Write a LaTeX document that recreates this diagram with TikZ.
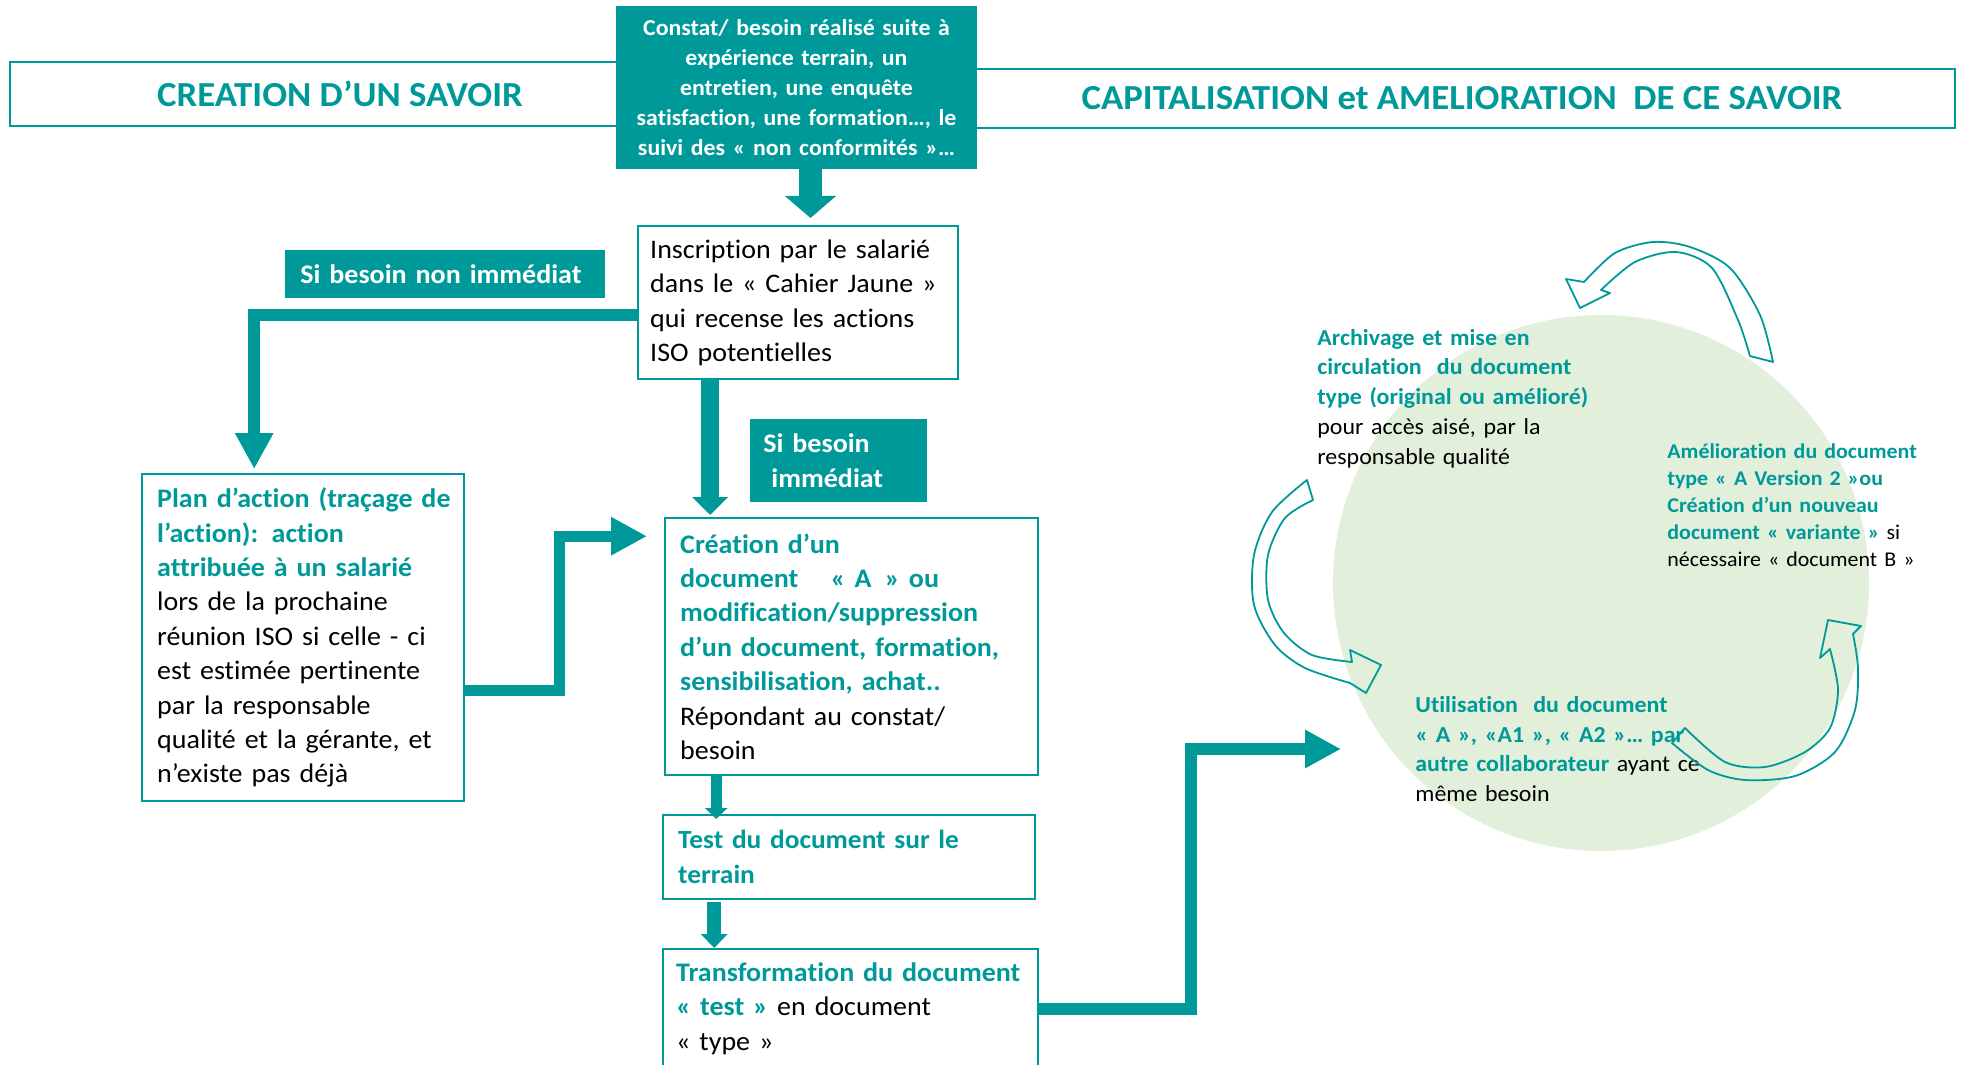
\documentclass[tikz,border=0pt]{standalone}
\usepackage{fontspec}
\setmainfont{Carlito}[FakeStretch=1.045, Ligatures={TeX,NoCommon}]
\usepackage{tikz}
\usepackage{xcolor}
\usetikzlibrary{arrows.meta}

\definecolor{tealc}{RGB}{0,153,153}
\definecolor{cyclegreen}{RGB}{226,239,218}
\newcommand{\tealbf}{\bfseries\color{tealc}}
\newcommand{\plainbk}{\mdseries\color{black}}
\newcommand{\nohyph}{\hyphenpenalty=10000\relax}
\newcommand{\ind}{\hspace*{6pt}}

\begin{document}
\begin{tikzpicture}[x=0.5pt, y=-0.5pt,
    every node/.style={execute at begin node=\nohyph},
    banner/.style={draw=tealc, line width=1.2pt, fill=white, text=tealc, font=\bfseries\fontsize{17.6}{20}\selectfont},
    tealbox/.style={fill=tealc, text=white, align=center, font=\bfseries\fontsize{11.4}{15}\selectfont},
    tag/.style={fill=tealc, text=white, align=left, anchor=north west, font=\bfseries\fontsize{13.4}{17.5}\selectfont},
    box/.style={draw=tealc, line width=1.2pt, fill=white, align=left, anchor=north west, inner ysep=0pt, font=\fontsize{13.4}{17.2}\selectfont},
    cycletxt/.style={anchor=west, align=left, inner sep=0pt, text width=150pt},
    flow/.style={draw=tealc, line width=6pt, -{Triangle[width=18pt, length=18pt]}},
    cyclearrow/.style={draw=tealc, line width=0.9pt, line join=round}]

\useasboundingbox (0,0) rectangle (1961,1065);
\clip (0,0) rectangle (1961,1065);
\fill[white] (0,0) rectangle (1961,1065);

% titles
\node[banner, minimum width=330pt, minimum height=32pt] (creation) at (340,94) {CREATION D’UN SAVOIR};
\node[banner, minimum width=493pt, minimum height=29.5pt] (capital) at (1462,98.5) {CAPITALISATION et AMELIORATION~ DE CE SAVOIR};
\node[tealbox, minimum width=179.5pt, minimum height=81.5pt, text width=174pt] (constat) at (796.5,87.5) {Constat/ besoin réalisé suite à\\ expérience terrain, un\\ entretien, une enquête\\ satisfaction, une formation…, le\\ suivi des « non conformités »…};

% creation du savoir
\node[box, minimum width=160pt, minimum height=76.5pt, text width=148pt, inner xsep=6pt] (inscr) at (637,225) {Inscription par le salarié\\ dans le « Cahier Jaune »\\ qui recense les actions\\ ISO potentielles};
\node[tag, minimum width=160pt, minimum height=24pt, text width=145pt, inner xsep=7.5pt] (nonimm) at (285,250) {Si besoin non immédiat};
\node[box, minimum width=161pt, minimum height=163.5pt, text width=158pt, inner xsep=1.5pt] (plan) at (141,473) {\ind\tealbf Plan d’action (traçage de\\ \ind l’action): action\\ \ind attribuée à un salarié\\ \ind\plainbk lors de la prochaine\\ \ind réunion ISO si celle - ci\\ \ind est estimée pertinente\\ \ind par la responsable\\ \ind qualité et la gérante, et\\ \ind n’existe pas déjà};
\node[tag, minimum width=88.5pt, minimum height=41.5pt, text width=75.5pt, inner xsep=6.5pt] (imm) at (750,419) {Si besoin\\ \hspace*{0.3em}immédiat};
\node[box, minimum width=186.5pt, minimum height=128.5pt, text width=171.5pt, inner xsep=7.5pt] (creat) at (664,517) {\tealbf Création d’un\\ document\hspace{1.2em}« A\hspace{0.5em}» ou\\ modification/suppression\\ d’un document, formation,\\ sensibilisation, achat..\\ \plainbk Répondant au constat/\\ besoin};
\node[box, minimum width=186pt, minimum height=42pt, text width=171pt, inner xsep=7.5pt, font=\bfseries\fontsize{13.1}{17.5}\selectfont, text=tealc] (test) at (662,814) {Test du document sur le\\ terrain};
\node[box, minimum width=187.5pt, minimum height=59.5pt, text width=182.5pt, inner xsep=2.5pt] (trans) at (662,948) {\hspace*{4pt}\tealbf Transformation du document\\ \hspace*{4pt}« test » \plainbk en document\\ \hspace*{4pt}« type »};

% capitalisation
\fill[cyclegreen] (1601,583) circle[radius=268];
\node[cycletxt, text width=160pt, font=\fontsize{11.45}{14.9}\selectfont] (archiv) at (1317,398.5) {\tealbf Archivage et mise en\\ circulation~ du document\\ type (original ou amélioré)\\ \plainbk pour accès aisé, par la\\ responsable qualité};
\node[cycletxt, text width=140pt, font=\fontsize{10.5}{13.45}\selectfont] (amelio) at (1667,505) {\tealbf Amélioration du document\\ type « A Version 2 »ou\\ Création d’un nouveau\\ document « variante » \plainbk si\\ nécessaire « document B »};
\node[cycletxt, text width=160pt, font=\fontsize{11.45}{14.85}\selectfont] (util) at (1415,749) {\tealbf Utilisation~ du document\\ « A », «A1 », « A2 »… par\\ autre collaborateur \plainbk ayant ce\\ même besoin};

\draw[cyclearrow] plot[smooth] coordinates {(1773,362) (1760,315) (1730,268) (1690,247) (1653,242) (1615,253) (1584,282)} -- (1566,279) -- (1580,308) -- (1610,293) -- plot[smooth] coordinates {(1601,290) (1635,262) (1676,252) (1712,268) (1738,320) (1750,356)} -- cycle;
\draw[cyclearrow] plot[smooth] coordinates {(1307,480) (1272,512) (1254,555) (1254,605) (1275,645) (1305,668) (1350,683)} -- (1366,693) -- (1381,665) -- (1350,650) -- plot[smooth] coordinates {(1352,662) (1312,655) (1284,633) (1268,600) (1268,555) (1285,518) (1313,500)} -- cycle;
\draw[cyclearrow] plot[smooth] coordinates {(1672,743) (1708,770) (1745,780) (1795,776) (1835,752) (1855,710) (1858,668) (1853,634)} -- (1861,626) -- (1828,620) -- (1820,658) -- plot[smooth] coordinates {(1830,649) (1838,690) (1830,728) (1805,752) (1765,767) (1725,762) (1685,728)} -- cycle;

% arrows
\draw[flow, line width=11.5pt, -{Triangle[width=25pt, length=11pt]}, shorten >=3.5pt] ([xshift=7pt]constat.south) -- ([xshift=7pt]constat.south |- inscr.north);
\draw[flow, shorten >=2pt] ([yshift=-6.25pt]inscr.west) -| ([xshift=-24.5pt]plan.north);
\draw[flow, line width=9pt, -{Triangle[width=17.5pt, length=9pt]}, shorten >=1pt] ([xshift=-44pt]inscr.south) -- ([xshift=-44pt]inscr.south |- creat.north);
\draw[flow, line width=5.5pt] ([yshift=-26.25pt]plan.east) -- ++(94,0) |- ([xshift=-8.5pt, yshift=55.25pt]creat.west);
\draw[flow, line width=5.5pt, -{Triangle[width=11pt, length=5.5pt]}, shorten >=-2.5pt] ([xshift=-67.75pt]creat.south) -- ([xshift=-67.75pt]creat.south |- test.north);
\draw[flow, line width=7pt, -{Triangle[width=13pt, length=7pt]}, shorten <=1pt] ([xshift=-67.5pt]test.south) -- ([xshift=-67.5pt]test.south |- trans.north);
\draw[flow] (trans.east) -- ++(152,0) |- ([xshift=-37pt]util.west);
\end{tikzpicture}
\end{document}
